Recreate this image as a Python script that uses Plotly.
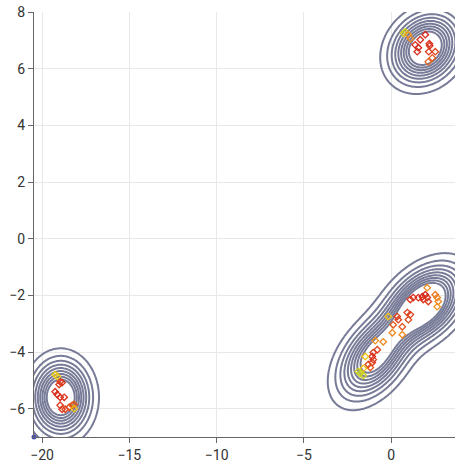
import numpy as np
import plotly.graph_objects as go

# Gaussian mixture components describing the density contours
comp_mx = [1.95, -18.93, 1.9, -1.0, 0.4]
comp_my = [6.72, -5.6, -2.3, -4.2, -3.2]
comp_sx = [1.12, 0.95, 1.25, 1.18, 0.9]
comp_sy = [0.7, 0.75, 0.76, 0.83, 0.6]
comp_rho = [0.2, 0.0, 0.4, 0.45, 0.6]
comp_amp = [1.0, 1.0, 1.12, 0.85, 0.18]

# Scatter samples (x, y, colour value)
pts_x = [0.8, 0.7, 0.97, 1.1, 1.95, 1.66, 2.18, 1.37, 1.55, 1.49, 2.2, 2.15, 2.52, 2.35, 2.12,
         2.06, 1.09, 1.26, 1.55, 1.78, 1.95, 2.06, 1.83, 2.12, 2.52, 2.63, 2.69, 2.63,
         0.92, 1.09, 0.34, 0.40, 0.11, 0.63, 0.98, -0.17, 0.06, 0.63,
         -0.92, -0.46, -0.80, -1.03, -1.09, -1.03, -1.09, -1.32, -1.20, -1.49, -1.60, -1.89, -1.78, -1.60,
         -18.96, -18.85, -19.02, -19.25, -19.13, -18.96, -18.73, -18.96, -18.85, -18.67, -18.44, -18.27, -18.16, -18.16, -19.25, -19.13]
pts_y = [7.3, 7.25, 7.2, 7.06, 7.2, 7.02, 6.88, 6.84, 6.74, 6.6, 6.81, 6.6, 6.6, 6.38, 6.24,
         -1.73, -2.15, -2.08, -2.08, -2.05, -1.98, -2.08, -2.15, -2.22, -1.98, -2.08, -2.22, -2.4,
         -2.61, -2.68, -2.75, -2.86, -3.04, -3.11, -2.86, -2.75, -3.32, -3.39,
         -3.6, -3.64, -3.92, -4.02, -4.16, -4.27, -4.37, -4.44, -4.55, -4.16, -4.58, -4.69, -4.76, -4.83,
         -5.05, -5.08, -5.15, -5.4, -5.5, -5.6, -5.6, -5.88, -6.02, -6.02, -5.95, -5.88, -5.85, -6.0, -4.8, -4.86]
pts_c = [0.6, 0.62, 0.8, 0.82, 0.98, 0.97, 0.97, 0.98, 0.98, 0.97, 0.96, 0.95, 0.93, 0.9, 0.88,
         0.8, 0.96, 0.97, 0.97, 0.98, 0.98, 0.97, 0.96, 0.95, 0.85, 0.83, 0.82, 0.8,
         0.95, 0.94, 0.95, 0.94, 0.9, 0.9, 0.92, 0.7, 0.82, 0.82,
         0.8, 0.82, 0.93, 0.96, 0.97, 0.96, 0.95, 0.93, 0.9, 0.7, 0.7, 0.6, 0.58, 0.6,
         0.95, 0.96, 0.95, 0.97, 0.97, 0.97, 0.96, 0.95, 0.95, 0.94, 0.93, 0.9, 0.9, 0.7, 0.68, 0.68]

origin_x = [-20.46]
origin_y = [-7.0]

x_ticks = [-20, -15, -10, -5, 0]
y_ticks = [-6, -4, -2, 0, 2, 4, 6, 8]

gx = np.linspace(-21.5, 4.5, 440)
gy = np.linspace(-8.0, 9.0, 360)
X, Y = np.meshgrid(gx, gy)
Z = np.zeros_like(X)
for mx, my, sx, sy, r, a in zip(comp_mx, comp_my, comp_sx, comp_sy, comp_rho, comp_amp):
    dx = (X - mx) / sx
    dy = (Y - my) / sy
    q = (dx * dx - 2 * r * dx * dy + dy * dy) / (1 - r * r)
    Z += a * np.exp(-0.5 * q)

fig = go.Figure()
fig.add_trace(go.Contour(
    x=gx, y=gy, z=Z,
    contours=dict(coloring="lines", start=0.07, end=0.78, size=0.079),
    line=dict(width=2),
    colorscale=[[0, "#777b97"], [1, "#777b97"]],
    showscale=False, hoverinfo="skip",
))

cscale = [[0, "#4a4fb0"], [0.55, "#b8d428"], [0.68, "#f0cc10"], [0.82, "#f08a20"], [1, "#d41c1c"]]
fig.add_trace(go.Scatter(
    x=pts_x, y=pts_y, mode="markers",
    marker=dict(symbol="diamond-open", size=5, color=pts_c, cmin=0, cmax=1,
                colorscale=cscale, line=dict(width=1.3)),
    showlegend=False,
))
fig.add_trace(go.Scatter(
    x=origin_x, y=origin_y, mode="markers", cliponaxis=False,
    marker=dict(symbol="circle", size=5, color="#4a4fb0"),
    showlegend=False,
))

axis_common = dict(showline=True, linecolor="#666", linewidth=1, ticks="outside", ticklen=5,
                   tickcolor="#666", gridcolor="#e8e8e8", zeroline=False,
                   tickfont=dict(size=14, color="#333", family="Roboto"))
fig.update_xaxes(range=[-20.46, 3.65], tickvals=x_ticks, **axis_common)
fig.update_yaxes(range=[-7, 8], tickvals=y_ticks, **axis_common)
fig.update_layout(width=455, height=465, margin=dict(l=34, r=0, t=12, b=28),
                  plot_bgcolor="white", paper_bgcolor="white", showlegend=False)
fig.write_html("out.html")
